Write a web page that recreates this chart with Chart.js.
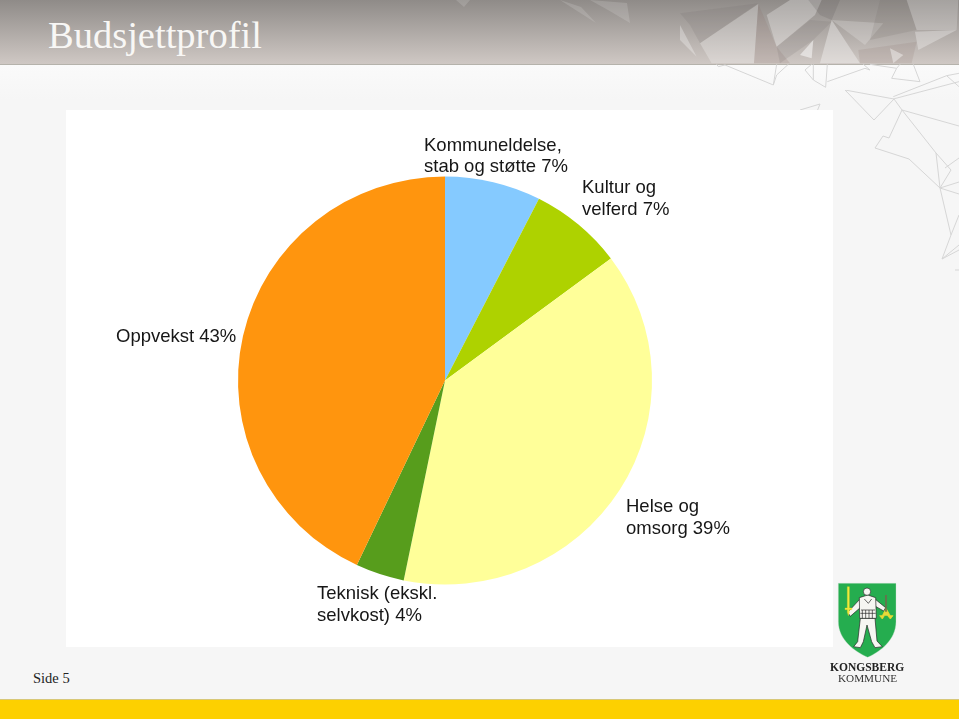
<!DOCTYPE html>
<html><head><meta charset="utf-8">
<script src="https://cdn.jsdelivr.net/npm/chart.js@4"></script>
<style>
html,body{margin:0;padding:0;background:#f6f6f6;overflow:hidden}
#slide{position:relative;width:959px;height:719px;overflow:hidden;background:linear-gradient(#fafafa 65px,#f6f6f6 100px)}
#head{position:absolute;left:0;top:0;width:959px;height:64px;background:linear-gradient(#8f8b88,#cfc8c4);border-bottom:1px solid #b5b2ab}
#deco,#deco2{position:absolute}
#deco{left:0;top:0}
#deco2{left:800px;top:90px}
#title{position:absolute;left:48px;top:13px;font:38.5px "Liberation Serif",serif;color:#f8f7f5;white-space:nowrap}
#panel{position:absolute;left:66px;top:110px;width:767px;height:537px;background:#fff}
#wrap{position:absolute;left:66px;top:110px;width:767px;height:537px}
#side{position:absolute;left:33px;top:670px;font:14.5px "Liberation Serif",serif;color:#222}
#band{position:absolute;left:0;top:699px;width:959px;height:20px;background:#fdd000;border-top:1px solid #d8c878;box-sizing:border-box}
#k1{position:absolute;left:830px;top:661px;font:bold 11.5px "Liberation Serif",serif;color:#222;white-space:nowrap}
#k2{position:absolute;left:838px;top:672px;font:11.2px "Liberation Serif",serif;color:#333;white-space:nowrap}
</style></head><body>
<div id="slide">
<div id="head"></div>
<svg id="deco" width="959" height="110" fill="none" stroke="#d6d6d6">
<g fill="#ffffff" fill-opacity=".14" stroke="none">
<polygon points="560,0 596,23 581,7"/><polygon points="590,0 627,3 630,23 608,10"/><polygon points="456,0 464,7 470,0"/>
</g>
<g transform="translate(680,0) scale(0.3333)" stroke="none">
<polygon points="0,40 235,10 60,130 30,75" fill="#6f6b69" fill-opacity=".16"/>
<polygon points="60,130 235,12 222,190 95,190" fill="#fff" fill-opacity=".25"/>
<polygon points="260,45 330,0 425,0 405,45 290,140" fill="#fff" fill-opacity=".28"/>
<polygon points="235,12 290,140 330,190 222,190" fill="#8a6f6a" fill-opacity=".18"/>
<polygon points="385,0 480,0 455,60 420,45" fill="#5f5b5a" fill-opacity=".2"/>
<polygon points="390,60 455,65 400,120 300,190 290,140" fill="#6f6b69" fill-opacity=".16"/>
<polygon points="455,60 540,190 420,190" fill="#fff" fill-opacity=".35"/>
<polygon points="455,60 610,70 555,135" fill="#fff" fill-opacity=".2"/>
<polygon points="360,165 400,120 395,175" fill="#fff" fill-opacity=".5"/>
<polygon points="600,0 680,0 710,90 570,120" fill="#6f6866" fill-opacity=".16"/>
<polygon points="680,0 835,0 830,90 710,90" fill="#fff" fill-opacity=".2"/>
<polygon points="705,95 830,90 715,150" fill="#fff" fill-opacity=".3"/>
<polygon points="535,150 710,125 695,190 540,190" fill="#8a6f6a" fill-opacity=".16"/>
<polygon points="630,145 670,165 640,190" fill="#fff" fill-opacity=".4"/>
<polygon points="0,75 50,170 0,120" fill="#fff" fill-opacity=".3"/>
</g>
<g transform="translate(680,0) scale(0.3333)" stroke-width="3">
<path d="M110,193 L115,200 L135,195 L280,255 L290,193 M325,193 L290,225 L280,255"/>
<path d="M395,193 L375,210 L400,240 L437,262 L442,193 M400,193 L400,240"/>
<path d="M442,245 L555,205 L570,210 L550,193 M570,193 L650,205 L660,193 M650,205 L635,235 L720,245 L700,193"/>
<path d="M640,297 L837,245 M640,290 L800,227 L837,220 M800,227 L837,260"/>
</g>
</svg>
<svg id="deco2" width="159" height="200" fill="none" stroke="#d6d6d6">
<path d="M0,20 L20,14 L16,24 M45,0 L74,30 L94,9 L45,0 M94,9 L102,20 L159,36 M102,20 L89,48 L83,46 L75,58 L109,69 L140,98 L136,63 L151,80 L140,98 L159,104 M102,20 L136,63 M140,98 L151,145 L142,169 L159,160 M142,169 L159,155 M151,145 L159,125 M155,180 L159,180 M140,98 L159,92 M145,78 L159,68"/>
</svg>
<div id="title">Budsjettprofil</div>
<div id="panel"></div>
<div id="wrap"><canvas id="c" width="767" height="537"></canvas></div>
<div id="side">Side 5</div>
<svg style="position:absolute;left:825px;top:575px" width="85" height="90" viewBox="0 0 255 270">
<path d="M40,25 H213 V140 C213,195 165,230 128,247 C90,230 40,195 40,140 Z" fill="#25ad4f" stroke="#cfe3d2" stroke-width="1"/>
<g fill="#f6f6f2" stroke="#222" stroke-width="2">
<path d="M106,130 L98,200 L86,215 L106,218 L115,200 L126,150 L140,200 L150,218 L172,215 L156,198 L150,130 Z"/>
<path d="M105,72 L68,112 L76,124 L108,96 Z"/>
<path d="M150,72 L182,98 L176,108 L148,92 Z"/>
<path d="M103,68 L128,60 L152,68 L154,130 L104,130 Z"/>
<circle cx="126" cy="50" r="11"/>
<path d="M108,105 H150 M106,115 H152 M112,105 V130 M122,105 V130 M132,105 V130 M142,105 V130 M118,72 L130,85 L140,72" fill="none"/>
</g>
<g fill="#f2ea3c" stroke="#e2d82c">
<path d="M67,35 H73 V112 L70,122 L67,112 Z"/><path d="M60,99 H81 V104 H60 Z"/>
</g>
<path d="M183,60 V115 M172,122 L183,100 L196,122 M164,122 H178 L172,132 Z M188,122 H204 L196,132 Z" stroke="#e2d82c" stroke-width="2.5" fill="#e8d83c"/>
<path d="M183,60 V110" stroke="#555" stroke-width="4"/>
</svg>
<div id="k1">KONGSBERG</div>
<div id="k2">KOMMUNE</div>
<div id="band"></div>
</div>
<script>
const categories = ["Kommuneldelse, stab og støtte","Kultur og velferd","Helse og omsorg","Teknisk (ekskl. selvkost)","Oppvekst"];
const values = [7.5,7.3,38.4,3.8,43.0];
const sliceColors = ["#85caff","#aed200","#ffff99","#579d1c","#ff950e"];
const labelLines = [["Kommuneldelse,","stab og støtte 7%"],["Kultur og","velferd 7%"],["Helse og","omsorg 39%"],["Teknisk (ekskl.","selvkost) 4%"],["Oppvekst 43%"]];
const labelAnchors = [[358,41],[516,83],[560,402],[251,489],[50,232]];
const labelSteps = [21,22,22,22,0];

const pieLabels = {
  id:"pieLabels",
  beforeDatasetsDraw(chart){
    const a = chart.getDatasetMeta(0).data[0], ctx = chart.ctx;
    ctx.save();
    ctx.translate(a.x,a.y); ctx.scale(1,0.9855); ctx.translate(-a.x,-a.y);
  },
  afterDatasetsDraw(chart){
    const ctx = chart.ctx;
    ctx.restore();
    ctx.save();
    ctx.font = '18.5px "Liberation Sans", Arial, sans-serif';
    ctx.fillStyle = "#161616";
    ctx.textBaseline = "alphabetic";
    labelLines.forEach((lines,i)=>{
      lines.forEach((t,j)=>ctx.fillText(t,labelAnchors[i][0],labelAnchors[i][1]+j*labelSteps[i]));
    });
    ctx.restore();
  }
};
new Chart(document.getElementById("c"),{
  type:"pie",
  data:{labels:categories,datasets:[{data:values,backgroundColor:sliceColors,borderWidth:0,radius:207}]},
  options:{
    responsive:false,animation:false,
    layout:{padding:{left:0,right:9,top:4,bottom:0}},
    plugins:{legend:{display:false},title:{display:false},tooltip:{enabled:false}}
  },
  plugins:[pieLabels]
});
</script>
</body></html>
